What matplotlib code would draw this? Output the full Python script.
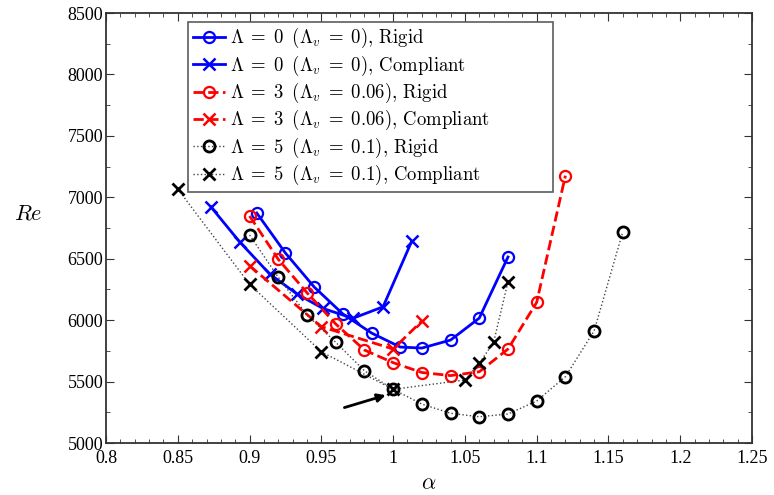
import numpy as np
import matplotlib
matplotlib.use("Agg")
import matplotlib.pyplot as plt
from matplotlib.ticker import MultipleLocator

plt.rcParams['mathtext.fontset'] = 'cm'
plt.rcParams['font.family'] = ['Liberation Serif', 'DejaVu Serif']

# Lambda = 0, rigid / compliant
a0_rigid = [0.905, 0.925, 0.945, 0.965, 0.985, 1.005, 1.02, 1.04, 1.06, 1.08]
re0_rigid = [6872, 6546, 6270, 6050, 5895, 5781, 5773, 5838, 6017, 6514]
a0_comp = [0.873, 0.893, 0.914, 0.933, 0.951, 0.972, 0.993, 1.013]
re0_comp = [6923, 6638, 6376, 6213, 6096, 6015, 6109, 6644]

# Lambda = 3
a3_rigid = [0.90, 0.92, 0.94, 0.96, 0.98, 1.00, 1.02, 1.04, 1.06, 1.08, 1.10, 1.12]
re3_rigid = [6848, 6495, 6223, 5969, 5757, 5654, 5574, 5549, 5580, 5765, 6145, 7176]
a3_comp = [0.90, 0.95, 1.00, 1.02]
re3_comp = [6443, 5947, 5765, 5993]

# Lambda = 5
a5_rigid = [0.90, 0.92, 0.94, 0.96, 0.98, 1.00, 1.02, 1.04, 1.06, 1.08, 1.10, 1.12, 1.14, 1.16]
re5_rigid = [6693, 6349, 6042, 5820, 5588, 5437, 5317, 5242, 5214, 5236, 5342, 5540, 5912, 6720]
a5_comp = [0.85, 0.90, 0.95, 1.00, 1.05, 1.06, 1.07, 1.08]
re5_comp = [7067, 6292, 5743, 5437, 5513, 5649, 5820, 6313]

L = r'\Lambda'
labels = [
    rf'${L}\;=\;0\;\;({L}_v\;=\;0)$, Rigid',
    rf'${L}\;=\;0\;\;({L}_v\;=\;0)$, Compliant',
    rf'${L}\;=\;3\;\;({L}_v\;=\;0.06)$, Rigid',
    rf'${L}\;=\;3\;\;({L}_v\;=\;0.06)$, Compliant',
    rf'${L}\;=\;5\;\;({L}_v\;=\;0.1)$, Rigid',
    rf'${L}\;=\;5\;\;({L}_v\;=\;0.1)$, Compliant',
]

fig = plt.figure(figsize=(7.74, 4.95), dpi=100)
ax = fig.add_axes([0.137, 0.105, 0.8346, 0.8687])

ax.plot(a0_rigid, re0_rigid, '-', color='#0000ff', lw=2, marker='o', ms=8,
        mfc='none', mew=1.6, label=labels[0])
ax.plot(a0_comp, re0_comp, '-', color='#0000ff', lw=2, marker='x', ms=9,
        mew=1.8, label=labels[1])
ax.plot(a3_rigid, re3_rigid, '--', color='#ff0000', lw=2, marker='o', ms=8,
        mfc='none', mew=1.6, label=labels[2])
ax.plot(a3_comp, re3_comp, '--', color='#ff0000', lw=2, marker='x', ms=9,
        mew=1.8, label=labels[3])
ax.plot(a5_rigid, re5_rigid, ':', color='#444444', lw=1.0, marker='o', ms=8,
        mfc='none', mec='black', mew=2, label=labels[4])
ax.plot(a5_comp, re5_comp, ':', color='#444444', lw=1.0, marker='x', ms=9,
        mec='black', mew=2, label=labels[5])

ax.annotate('', xy=(0.9967, 5396), xytext=(0.9642, 5282),
            arrowprops=dict(arrowstyle='-|>', color='black', lw=2,
                            mutation_scale=12))

ax.set_xlim(0.8, 1.25)
ax.set_ylim(5000, 8500)
ax.xaxis.set_major_locator(MultipleLocator(0.05))
ax.xaxis.set_minor_locator(MultipleLocator(0.01))
ax.yaxis.set_major_locator(MultipleLocator(500))
ax.yaxis.set_minor_locator(MultipleLocator(250))
ax.xaxis.set_major_formatter(matplotlib.ticker.FuncFormatter(lambda v, p: f'{v:g}'))
ax.tick_params(which='both', direction='in', top=True, right=True,
               labelsize=13, color='#333333')
ax.tick_params(axis='x', pad=5)
ax.tick_params(axis='y', pad=2)
ax.tick_params(which='major', length=6)
ax.tick_params(which='minor', length=3)
for s in ax.spines.values():
    s.set_linewidth(1.3)
    s.set_color('#333333')

ax.set_xlabel(r'$\alpha$', fontsize=16, labelpad=6)
ax.set_ylabel(r'$Re$', fontsize=16, rotation=0, va='center', ha='center')
ax.yaxis.set_label_coords(-0.12, 0.53)

leg = ax.legend(loc='upper left', bbox_to_anchor=(0.127, 0.98, 0.565, 0.0),
                mode='expand', prop={'family': 'cmr10', 'size': 13.5},
                frameon=True, fancybox=False, edgecolor='#333333',
                handlelength=1.7, handletextpad=0.3, labelspacing=0.17,
                borderpad=0.25, borderaxespad=0)
leg.get_frame().set_linewidth(1.2)

fig.savefig('out.png', dpi=100)
